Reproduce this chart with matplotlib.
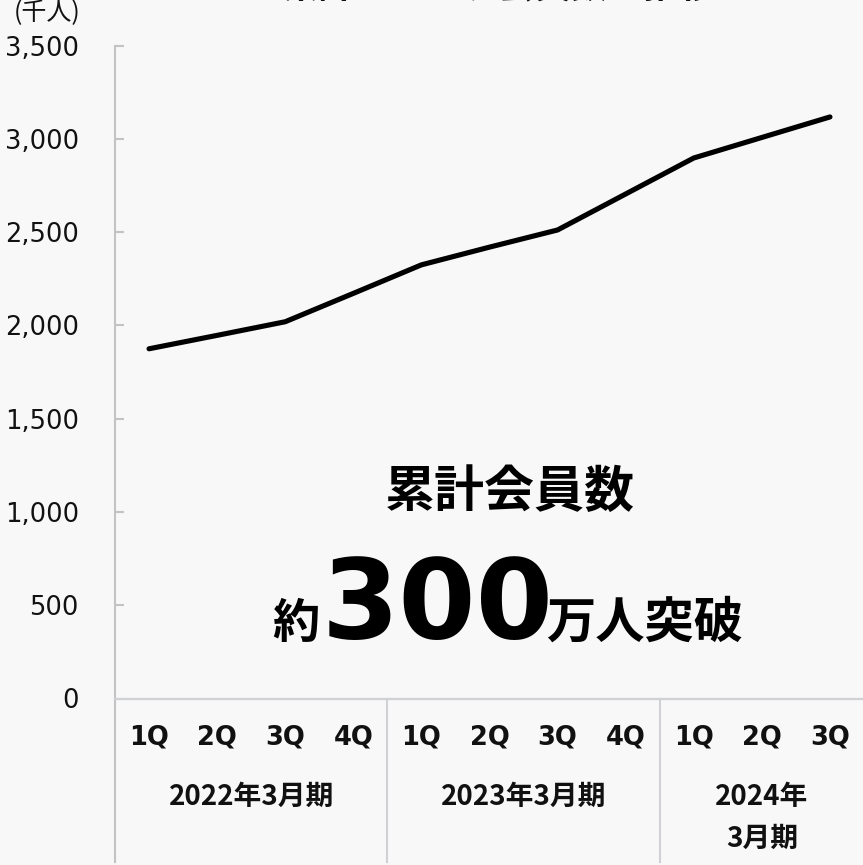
import matplotlib
matplotlib.use("Agg")
import matplotlib.pyplot as plt
import matplotlib.transforms as mtransforms
from matplotlib.ticker import FuncFormatter

# 累計会員数 (千人) by quarter
quarters = ["1Q", "2Q", "3Q", "4Q", "1Q", "2Q", "3Q", "4Q", "1Q", "2Q", "3Q"]
members = [1875, 1947, 2020, 2172, 2325, 2420, 2512, 2705, 2898, 3008, 3118]
fiscal_years = ["2022年3月期", "2023年3月期", "2024年\n3月期"]
year_spans = [(0, 4), (4, 8), (8, 11)]
y_ticks = [0, 500, 1000, 1500, 2000, 2500, 3000, 3500]

BG = "#f8f8f8"
AXIS_GRAY = "#c3c3c3"
SEP_GRAY = "#cfd1d5"
JP = ["Noto Sans CJK JP", "DejaVu Sans"]

W, H = 863, 865
fig = plt.figure(figsize=(W / 100, H / 100), dpi=100, facecolor=BG)


def fy(py):
    # pixel row from top -> figure fraction
    return 1 - py / H


ax_left, ax_right, ax_top, ax_bottom = 115, 864, 45.7, 698.5
ax = fig.add_axes([ax_left / W, fy(ax_bottom), (ax_right - ax_left) / W,
                   (ax_bottom - ax_top) / H])
ax.set_facecolor(BG)

x = list(range(len(members)))
ax.plot(x, members, color="black", lw=3.7, solid_capstyle="round",
        solid_joinstyle="round", zorder=3)

ax.set_xlim(-0.5, len(members) - 0.5)
ax.set_ylim(0, 3500)
ax.set_yticks(y_ticks)
ax.yaxis.set_major_formatter(FuncFormatter(lambda v, p: f"{int(v):,}"))
ax.tick_params(axis="y", direction="in", length=6.5, width=1.5,
               color=AXIS_GRAY, labelsize=18.5, pad=26, labelcolor="#111111")
ax.set_xticks([])

for s in ["top", "right"]:
    ax.spines[s].set_visible(False)
ax.spines["left"].set_color(AXIS_GRAY)
ax.spines["left"].set_linewidth(1.5)
ax.spines["bottom"].set_color(SEP_GRAY)
ax.spines["bottom"].set_linewidth(1.6)

# category axis: quarter labels, fiscal-year labels and separators
trans = mtransforms.blended_transform_factory(ax.transData, fig.transFigure)
for i, q in enumerate(quarters):
    ax.text(i, fy(738), q, transform=trans, ha="center", va="center",
            fontsize=18.5, fontweight="bold", family="DejaVu Sans",
            color="#111111")

for (start, end), label in zip(year_spans, fiscal_years):
    cx = (start + end - 1) / 2
    lines = label.split("\n")
    rows = [797, 839][:len(lines)]
    for text, row in zip(lines, rows):
        ax.text(cx, fy(row), text, transform=trans, ha="center",
                va="center", fontsize=20, fontweight="bold", family=JP,
                color="#111111")

for edge in [-0.5, 3.5, 7.5]:
    color = AXIS_GRAY if edge == -0.5 else SEP_GRAY
    ax.plot([edge, edge], [fy(ax_bottom), fy(862)], transform=trans,
            color=color, lw=1.5, clip_on=False)

# unit label and title
fig.text(80 / W, fy(13), "(千人)", ha="right", va="center", fontsize=18,
         family=JP, color="#111111")
fig.text(499 / W, fy(-12), "累計ユニーク会員数の推移", ha="center",
         va="center", fontsize=26, fontweight="bold", family=JP,
         color="#111111")

# headline
fig.text(510 / W, fy(492), "累計会員数", ha="center", va="center",
         fontsize=36, fontweight="bold", family=JP, color="black")
base = fy(638)
fig.text(272 / W, base, "約", ha="left", va="baseline", fontsize=34,
         fontweight="bold", family=JP, color="black")
fig.text(322 / W, base, "300", ha="left", va="baseline", fontsize=80,
         fontweight="bold", family="DejaVu Sans", color="black")
fig.text(546 / W, base, "万人突破", ha="left", va="baseline", fontsize=35.5,
         fontweight="bold", family=JP, color="black")

fig.savefig("out.png", dpi=100, facecolor=BG)
